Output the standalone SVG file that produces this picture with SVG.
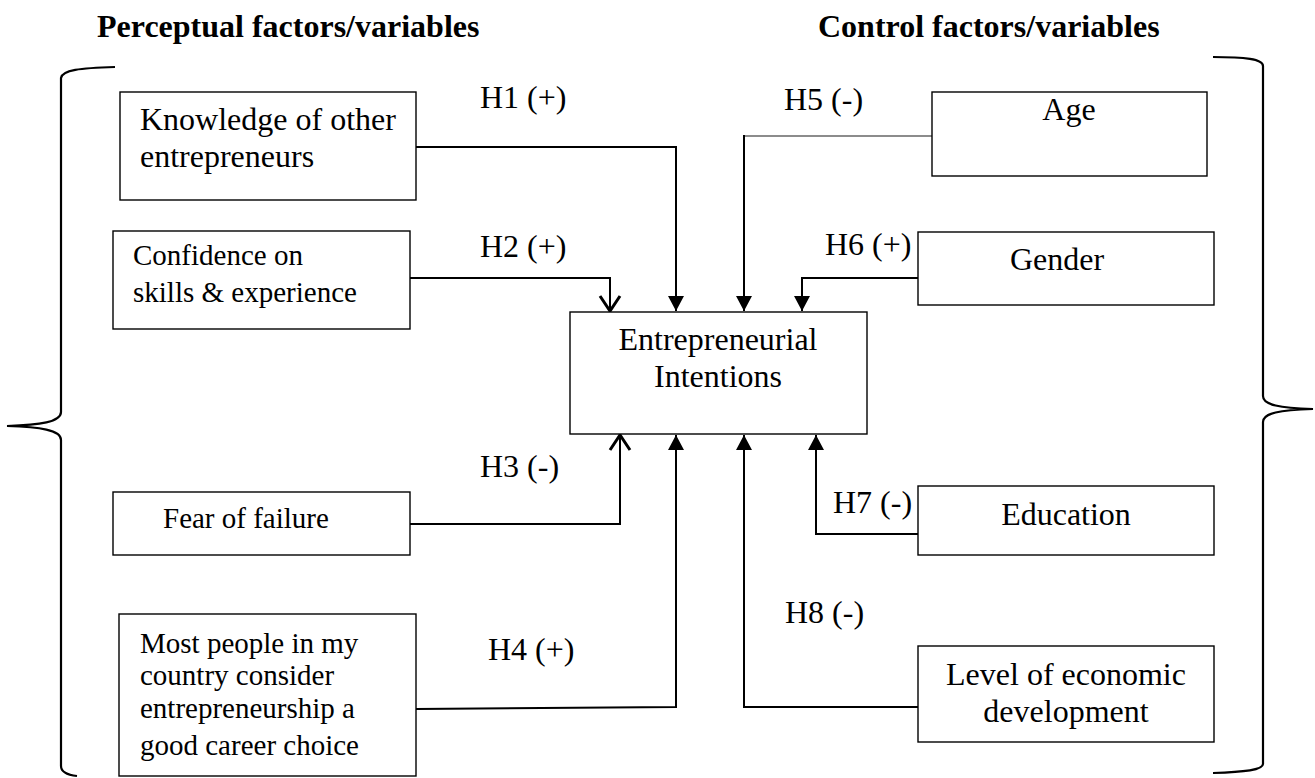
<svg xmlns="http://www.w3.org/2000/svg" width="1315" height="778" viewBox="0 0 1315 778">
<style>
.box{fill:#fff;stroke:#000;stroke-width:1.4}
.t{font-family:"Liberation Serif","Times New Roman",serif;font-size:32px;fill:#000}
.s{font-size:29px}
.b{font-weight:bold}
.c{text-anchor:middle}
.ln{fill:none;stroke:#000;stroke-width:2}
.br{fill:none;stroke:#000;stroke-width:2.2}
</style>
<defs>
<marker id="fill" markerWidth="16" markerHeight="16" refX="15" refY="8" orient="auto" markerUnits="userSpaceOnUse">
<path d="M0,0 L15,8 L0,16 Z" fill="#000"/>
</marker>
<marker id="open" markerWidth="20" markerHeight="24" refX="16" refY="12" orient="auto" markerUnits="userSpaceOnUse">
<path d="M1,2 L16,12 L1,22" fill="none" stroke="#000" stroke-width="3"/>
</marker>
</defs>
<rect width="1315" height="778" fill="#fff"/>

<text class="t b" x="97" y="37">Perceptual factors/variables</text>
<text class="t b" x="818" y="37">Control factors/variables</text>

<g id="braces">
<path class="br" d="M115,67 C80,68 62,70 61,78 V412 C61,422 40,425 7,426 C40,427 61,430 61,440 V766 C61,772 68,775 77,776"/>
<path class="br" d="M1213,57 C1245,57 1263,59 1263,66 V396 C1263,405 1280,408 1313,409 C1280,410 1263,413 1263,422 V764 C1263,770 1245,772 1213,773"/>
</g>

<g id="connectors">
<path class="ln" d="M416,147 H676 V311" marker-end="url(#fill)"/>
<path class="ln" d="M410,278 H610 V311" marker-end="url(#open)"/>
<path class="ln" d="M410,524 H620 V435" marker-end="url(#open)"/>
<path class="ln" d="M416,709 L676,707 V435" marker-end="url(#fill)"/>
<path class="ln" d="M932,136 H744" style="stroke:#666;stroke-width:1.6"/>
<path class="ln" d="M744,135 V311" marker-end="url(#fill)"/>
<path class="ln" d="M918,278 H802 V311" marker-end="url(#fill)"/>
<path class="ln" d="M918,534 H816 V435" marker-end="url(#fill)"/>
<path class="ln" d="M918,707 H744 V435" marker-end="url(#fill)"/>
</g>

<g id="labels">
<text class="t" x="480" y="108">H1 (+)</text>
<text class="t" x="480" y="257">H2 (+)</text>
<text class="t" x="480" y="477">H3 (-)</text>
<text class="t" x="488" y="660">H4 (+)</text>
<text class="t" x="784" y="110">H5 (-)</text>
<text class="t" x="825" y="255">H6 (+)</text>
<text class="t" x="833" y="513">H7 (-)</text>
<text class="t" x="785" y="623">H8 (-)</text>
</g>

<g id="knowledge">
<rect class="box" x="120" y="92" width="296" height="108"/>
<text class="t" x="140" y="130">Knowledge of other</text>
<text class="t" x="140" y="167">entrepreneurs</text>
</g>
<g id="confidence">
<rect class="box" x="113" y="231" width="297" height="98"/>
<text class="t s" x="133" y="265">Confidence on</text>
<text class="t s" x="133" y="302">skills &amp; experience</text>
</g>
<g id="fear">
<rect class="box" x="113" y="492" width="297" height="63"/>
<text class="t s" x="163" y="528">Fear of failure</text>
</g>
<g id="mostpeople">
<rect class="box" x="119" y="614" width="297" height="162"/>
<text class="t s" x="140" y="653">Most people in my</text>
<text class="t s" x="140" y="685">country consider</text>
<text class="t s" x="140" y="718">entrepreneurship a</text>
<text class="t s" x="140" y="755">good career choice</text>
</g>
<g id="intentions">
<rect class="box" x="570" y="312" width="297" height="122"/>
<text class="t c" x="718" y="350">Entrepreneurial</text>
<text class="t c" x="718" y="387">Intentions</text>
</g>
<g id="age">
<rect class="box" x="932" y="92" width="275" height="84"/>
<text class="t c" x="1069" y="120">Age</text>
</g>
<g id="gender">
<rect class="box" x="918" y="232" width="296" height="73"/>
<text class="t c" x="1057" y="270">Gender</text>
</g>
<g id="education">
<rect class="box" x="918" y="486" width="296" height="69"/>
<text class="t c" x="1066" y="525">Education</text>
</g>
<g id="economic">
<rect class="box" x="918" y="646" width="296" height="96"/>
<text class="t c" x="1066" y="685">Level of economic</text>
<text class="t c" x="1066" y="722">development</text>
</g>
</svg>
